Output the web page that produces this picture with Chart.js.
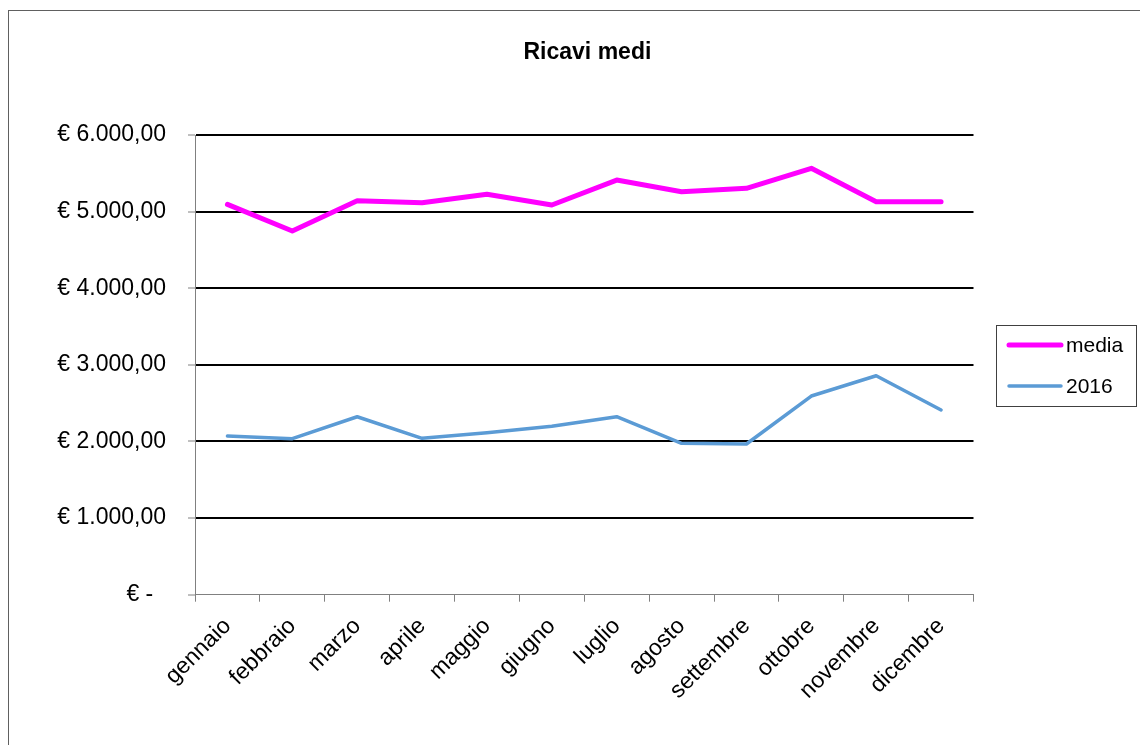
<!DOCTYPE html>
<html lang="it">
<head>
<meta charset="utf-8">
<title>Ricavi medi</title>
<script src="https://cdn.jsdelivr.net/npm/chart.js@4/dist/chart.umd.min.js"></script>
<style>
  html, body { margin: 0; padding: 0; background: #fff; overflow: hidden; }
  canvas { display: block; }
</style>
</head>
<body>
<canvas id="grafico" width="1140" height="745"></canvas>
<script>
// Mesi e ricavi medi mensili
const mesi = ['gennaio', 'febbraio', 'marzo', 'aprile', 'maggio', 'giugno',
              'luglio', 'agosto', 'settembre', 'ottobre', 'novembre', 'dicembre'];
const ricaviMedia = [5095, 4747, 5142, 5116, 5226, 5086, 5412, 5260, 5304, 5565, 5129, 5129];
const ricavi2016  = [2071, 2036, 2323, 2041, 2114, 2200, 2323, 1976, 1967, 2593, 2858, 2411];
const etichetteSerie = ['media', '2016'];
const assaY = { min: 0, max: 6000, passo: 1000 };

const FONT = '"Liberation Sans", Arial, sans-serif';

// Formato contabile: € 1.000,00 e "€ -" per lo zero
function formatoEuro(v) {
  if (v === 0) return '€ -  ';
  const intero = Math.floor(v).toString().replace(/\B(?=(\d{3})+(?!\d))/g, '.');
  return '€ ' + intero + ',00';
}

// Cornice esterna del grafico
const cornice = {
  id: 'cornice',
  beforeDraw(chart) {
    const c = chart.ctx;
    c.save();
    c.fillStyle = '#fff';
    c.fillRect(0, 0, chart.width, chart.height);
    c.strokeStyle = '#606060';
    c.lineWidth = 1;
    c.strokeRect(8.5, 10.5, chart.width + 20, chart.height + 20);
    c.restore();
  }
};

// Legenda a destra dell'area del grafico
const legendaBox = {
  id: 'legendaBox',
  afterDraw(chart) {
    const c = chart.ctx;
    c.save();
    c.strokeStyle = '#404040';
    c.lineWidth = 1;
    c.strokeRect(996.5, 325.5, 140, 81);
    const righe = [345, 386];
    chart.data.datasets.forEach((ds, i) => {
      const y = righe[i];
      c.strokeStyle = ds.borderColor;
      c.lineWidth = ds.borderWidth;
      c.lineCap = 'round';
      c.beginPath();
      c.moveTo(1009, y);
      c.lineTo(1061, y);
      c.stroke();
      c.fillStyle = '#000';
      c.font = '21px ' + FONT;
      c.textBaseline = 'middle';
      c.textAlign = 'left';
      c.fillText(ds.label, 1066, y + 1);
    });
    c.restore();
  }
};

new Chart(document.getElementById('grafico'), {
  type: 'line',
  data: {
    labels: mesi,
    datasets: [
      {
        label: etichetteSerie[0],
        data: ricaviMedia,
        borderColor: '#FF00FF',
        backgroundColor: '#FF00FF',
        borderWidth: 5,
        pointRadius: 0,
        tension: 0,
        borderCapStyle: 'round',
        borderJoinStyle: 'round'
      },
      {
        label: etichetteSerie[1],
        data: ricavi2016,
        borderColor: '#5B9BD5',
        backgroundColor: '#5B9BD5',
        borderWidth: 3.5,
        pointRadius: 0,
        tension: 0,
        borderCapStyle: 'round',
        borderJoinStyle: 'round'
      }
    ]
  },
  options: {
    responsive: false,
    animation: false,
    devicePixelRatio: 1,
    layout: { padding: { left: 34.8, right: 0, top: 0, bottom: 0 } },
    plugins: {
      legend: { display: false },
      tooltip: { enabled: false },
      title: {
        display: true,
        text: 'Ricavi medi',
        color: '#000',
        font: { family: FONT, size: 23, weight: 'bold' },
        padding: { top: 39, bottom: 68.4 }
      }
    },
    scales: {
      x: {
        offset: true,
        grid: {
          offset: true,
          drawOnChartArea: false,
          drawTicks: true,
          tickLength: 7,
          color: '#808080',
          lineWidth: 1
        },
        border: { display: true, color: '#808080', width: 1 },
        ticks: {
          color: '#000',
          font: { family: FONT, size: 23 },
          minRotation: 45,
          maxRotation: 45,
          autoSkip: false,
          padding: 11
        },
        afterFit(scale) { scale.height = 150.3; }
      },
      y: {
        min: assaY.min,
        max: assaY.max,
        grid: {
          drawTicks: true,
          tickLength: 7,
          lineWidth: 2,
          color: (ctx) => (ctx.tick && ctx.tick.value === 0) ? 'rgba(0,0,0,0)' : '#000',
          tickColor: '#808080',
          tickWidth: 1
        },
        border: { display: true, color: '#808080', width: 1 },
        ticks: {
          stepSize: assaY.passo,
          color: '#000',
          font: { family: FONT, size: 23 },
          padding: 22,
          callback: (v) => formatoEuro(v)
        },
        afterFit(scale) { scale.width = 160.2; }
      },
      // spazio a destra riservato alla legenda
      spazioLegenda: {
        type: 'linear',
        position: 'right',
        display: true,
        grid: { display: false, drawTicks: false },
        border: { display: false },
        ticks: { display: false },
        afterFit(scale) { scale.width = 166.5; }
      }
    }
  },
  plugins: [cornice, legendaBox]
});
</script>
</body>
</html>
